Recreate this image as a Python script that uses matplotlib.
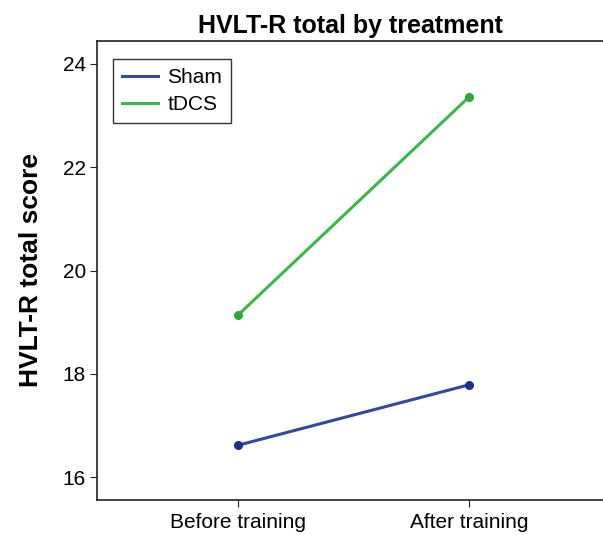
import matplotlib.pyplot as plt

plt.rcParams["font.family"] = ["Liberation Sans", "DejaVu Sans"]

phases = ["Before training", "After training"]
sham = [16.62, 17.79]
tdcs = [19.14, 23.36]

fig = plt.figure(figsize=(6.03, 5.35), dpi=100)
ax = fig.add_axes([0.161, 0.0654, 0.839, 0.858])

x = range(len(phases))
ax.plot(x, sham, color="#3347a3", lw=2.2, marker="o", ms=5.5,
        mfc="#1f2f8c", mec="#1f2f8c", label="Sham")
ax.plot(x, tdcs, color="#3cb54a", lw=2.2, marker="o", ms=5.5,
        mfc="#2ea83d", mec="#2ea83d", label="tDCS")

ax.set_xlim(-0.61, 1.58)
ax.set_ylim(15.56, 24.445)
ax.set_xticks(list(x))
ax.set_xticklabels(phases)
ax.set_yticks([16, 18, 20, 22, 24])
ax.tick_params(direction="out", length=5, labelsize=15, color="#222222")
ax.tick_params(axis="x", pad=4)
ax.tick_params(axis="y", pad=3)
ax.spines["right"].set_visible(False)
for s in ax.spines.values():
    s.set_color("#222222")
    s.set_linewidth(1.2)

ax.set_title("HVLT-R total by treatment", fontsize=18, fontweight="bold", pad=6)
ax.set_ylabel("HVLT-R total score", fontsize=19, fontweight="bold", labelpad=14)

# legend without markers
h1 = plt.Line2D([], [], color="#3347a3", lw=2.2)
h2 = plt.Line2D([], [], color="#3cb54a", lw=2.2)
leg = ax.legend([h1, h2], ["Sham", "tDCS"], loc="upper left",
                bbox_to_anchor=(0.031, 0.96), fontsize=15,
                fancybox=False, edgecolor="black", handlelength=1.75,
                borderpad=0.42, labelspacing=0.38, handletextpad=0.45,
                borderaxespad=0)
leg.get_frame().set_linewidth(1.0)

fig.savefig("out.png", dpi=100)
